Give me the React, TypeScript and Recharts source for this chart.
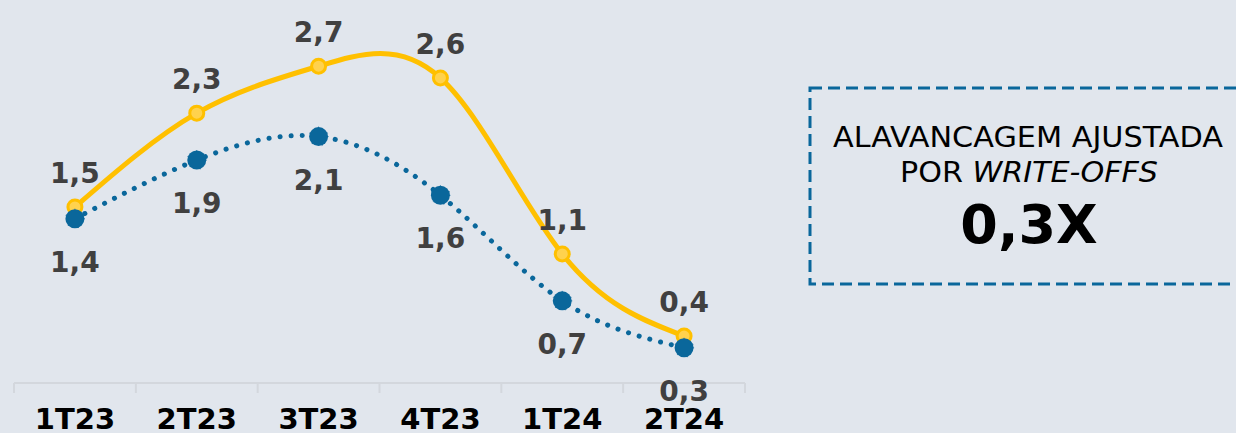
import { LineChart, Line, XAxis, YAxis, LabelList } from 'recharts';

const quarters = ['1T23', '2T23', '3T23', '4T23', '1T24', '2T24'];
const alavancagem = [1.5, 2.3, 2.7, 2.6, 1.1, 0.4];
const alavancagemAjustada = [1.4, 1.9, 2.1, 1.6, 0.7, 0.3];
const boxTitle = ['ALAVANCAGEM AJUSTADA', 'POR ', 'WRITE-OFFS'];
const boxValue = '0,3X';

const data = quarters.map((q, i) => ({
  quarter: q,
  total: alavancagem[i],
  ajustada: alavancagemAjustada[i],
}));

const BG = '#e1e6ed';
const YELLOW = '#ffc000';
const BLUE = '#0a679b';
const LABEL = '#404040';
const FONT = '"DejaVu Sans", Verdana, sans-serif';

const fmt = (v: number) => v.toFixed(1).replace('.', ',');

const BAND = 731 / 6;

function QuarterTick(props: any) {
  const { x, y, payload, index } = props;
  const half = BAND / 2;
  return (
    <g>
      <line x1={x - half} y1={y} x2={x - half} y2={y + 10} stroke="#d3d7dd" strokeWidth={2} />
      {index === quarters.length - 1 && (
        <line x1={x + half} y1={y} x2={x + half} y2={y + 10} stroke="#d3d7dd" strokeWidth={2} />
      )}
      <text x={x} y={y + 46} textAnchor="middle" fontFamily={FONT} fontWeight="bold" fontSize={29} fill="#000">
        {payload.value}
      </text>
    </g>
  );
}

function labelAbove(props: any) {
  const { x, y, value } = props;
  return (
    <text x={x} y={y - 24} textAnchor="middle" fontFamily={FONT} fontWeight="bold" fontSize={28} fill={LABEL}>
      {fmt(Number(value))}
    </text>
  );
}

function labelBelow(props: any) {
  const { x, y, value } = props;
  return (
    <text x={x} y={y + 53} textAnchor="middle" fontFamily={FONT} fontWeight="bold" fontSize={28} fill={LABEL}>
      {fmt(Number(value))}
    </text>
  );
}

export default function App() {
  return (
    <div style={{ position: 'absolute', left: 0, top: 0, width: 1236, height: 433, background: BG, overflow: 'hidden' }}>
      <LineChart width={760} height={433} data={data} margin={{ top: 31, right: 15, bottom: 0, left: 14 }}>
        <XAxis
          dataKey="quarter"
          height={50}
          padding={{ left: BAND / 2, right: BAND / 2 }}
          axisLine={{ stroke: '#d3d7dd', strokeWidth: 2 }}
          tickLine={false}
          tickSize={0}
          tickMargin={0}
          tick={<QuarterTick />}
          interval={0}
        />
        <YAxis hide domain={[0, 3]} />
        <Line
          type="natural"
          dataKey="total"
          stroke={YELLOW}
          strokeWidth={5}
          dot={{ r: 7, fill: '#ffd24d', stroke: YELLOW, strokeWidth: 3 }}
          activeDot={false}
          isAnimationActive={false}
        >
          <LabelList dataKey="total" content={labelAbove} />
        </Line>
        <Line
          type="natural"
          dataKey="ajustada"
          stroke={BLUE}
          strokeWidth={5}
          strokeDasharray="0.1 11"
          strokeLinecap="round"
          dot={{ r: 9.5, fill: BLUE, stroke: BLUE, strokeWidth: 1 }}
          activeDot={false}
          isAnimationActive={false}
        >
          <LabelList dataKey="ajustada" content={labelBelow} />
        </Line>
      </LineChart>
      <svg width={1236} height={433} style={{ position: 'absolute', left: 0, top: 0 }}>
        <rect x={810} y={88} width={436} height={196} fill="none" stroke={BLUE} strokeWidth={3} strokeDasharray="12 6" />
        <text x={1028} y={147} textAnchor="middle" fontFamily={FONT} fontSize={28} fill="#000" textLength={390} lengthAdjust="spacingAndGlyphs">
          {boxTitle[0]}
        </text>
        <text x={1029} y={182} textAnchor="middle" fontFamily={FONT} fontSize={28} fill="#000" textLength={258} lengthAdjust="spacingAndGlyphs">
          {boxTitle[1]}
          <tspan fontStyle="italic">{boxTitle[2]}</tspan>
        </text>
        <text x={1029} y={243} textAnchor="middle" fontFamily={FONT} fontWeight="bold" fontSize={54} fill="#000">
          {boxValue}
        </text>
      </svg>
    </div>
  );
}
